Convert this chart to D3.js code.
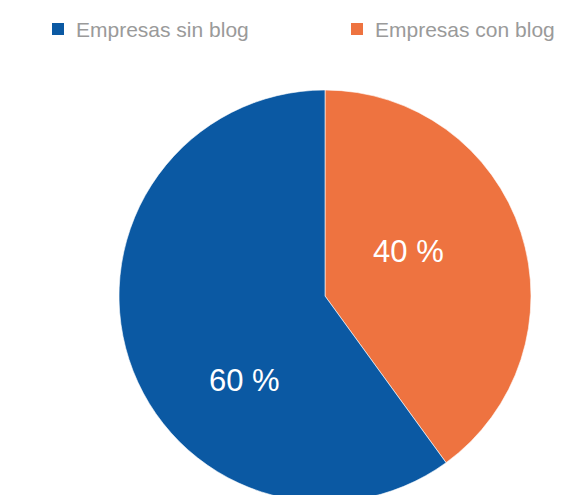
<!DOCTYPE html>
<html>
<head>
<meta charset="utf-8">
<script src="https://cdn.jsdelivr.net/npm/d3@7"></script>
<style>
  html, body { margin: 0; padding: 0; background: #fff; }
  svg { display: block; }
</style>
</head>
<body>
<svg id="chart" width="568" height="495"></svg>
<script>
// categories in drawing order (clockwise from 12 o'clock)
const categories = ['Empresas con blog', 'Empresas sin blog'];
const values = [40, 60];
const colors = ['#EE7340', '#0B59A3'];
// legend shows "sin blog" first
const legendOrder = ['Empresas sin blog', 'Empresas con blog'];

const width = 568, height = 495;
const cx = 325, cy = 296, radius = 206;

const svg = d3.select('#chart');
const color = d3.scaleOrdinal().domain(categories).range(colors);

const pie = d3.pie().sort(null).value(d => d.value);
const arcs = pie(categories.map((c, i) => ({ name: c, value: values[i] })));
const arc = d3.arc().innerRadius(0).outerRadius(radius);

const g = svg.append('g').attr('transform', `translate(${cx},${cy})`);

g.selectAll('path.slice')
  .data(arcs)
  .enter()
  .append('path')
  .attr('class', 'slice')
  .attr('d', arc)
  .attr('fill', d => color(d.data.name))
  .attr('stroke', '#fff')
  .attr('stroke-width', 0.6);

// label placement roughly like the original (a bit off the mid-angle)
const labelTweak = [{ da: -0.18, r: 0.46 }, { da: -0.49, r: 0.565 }];
g.selectAll('text.lbl')
  .data(arcs)
  .enter()
  .append('text')
  .attr('class', 'lbl')
  .attr('x', (d, i) => {
    const a = (d.startAngle + d.endAngle) / 2 + labelTweak[i].da;
    return Math.sin(a) * radius * labelTweak[i].r;
  })
  .attr('y', (d, i) => {
    const a = (d.startAngle + d.endAngle) / 2 + labelTweak[i].da;
    return -Math.cos(a) * radius * labelTweak[i].r;
  })
  .attr('text-anchor', 'middle')
  .attr('dy', '0.35em')
  .attr('fill', '#fff')
  .style('font-family', '"Liberation Sans", Arial, sans-serif')
  .style('font-size', '31px')
  .text(d => d.data.value + ' %');

// legend
const legendX = d3.scalePoint().domain(legendOrder).range([52, 351]);
const lg = svg.selectAll('g.legend')
  .data(legendOrder)
  .enter()
  .append('g')
  .attr('class', 'legend')
  .attr('transform', d => `translate(${legendX(d)},23)`);

lg.append('rect')
  .attr('width', 12)
  .attr('height', 12)
  .attr('fill', d => color(d));

lg.append('text')
  .attr('x', 24)
  .attr('y', 13.5)
  .attr('fill', '#9a9a9a')
  .style('font-family', '"Liberation Sans", Arial, sans-serif')
  .style('font-size', '21px')
  .text(d => d);
</script>
</body>
</html>
